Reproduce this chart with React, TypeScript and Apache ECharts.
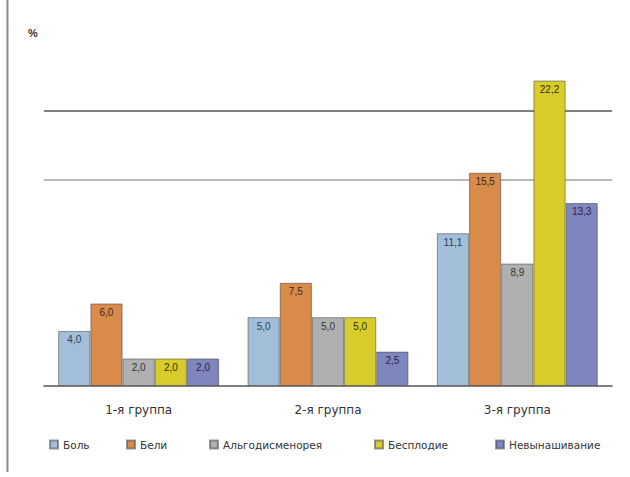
import React, { useEffect, useRef } from "react";
import * as echarts from "echarts";

const categories = ["1-я группа", "2-я группа", "3-я группа"];
const seriesNames = ["Боль", "Бели", "Альгодисменорея", "Бесплодие", "Невынашивание"];
const painValues = [4.0, 5.0, 11.1];
const leucorrheaValues = [6.0, 7.5, 15.5];
const algoValues = [2.0, 5.0, 8.9];
const infertilityValues = [2.0, 5.0, 22.2];
const miscarriageValues = [2.0, 2.5, 13.3];
const colors = ["#A3BED8", "#D98B4C", "#B0B0B0", "#D8CC2C", "#7F86BD"];
const labelColors = ["#2c3e5c", "#3a2a1a", "#333333", "#333300", "#1f2550"];
const legendLefts = [44, 121, 204, 369, 490];

export default function App() {
  const ref = useRef<HTMLDivElement>(null);
  useEffect(() => {
    document.body.style.margin = "0";
    const chart = echarts.init(ref.current!, null, { renderer: "svg" });
    const allValues = [painValues, leucorrheaValues, algoValues, infertilityValues, miscarriageValues];
    chart.setOption({
      animation: false,
      backgroundColor: "#ffffff",
      textStyle: { fontFamily: "DejaVu Sans, sans-serif" },
      graphic: [
        { type: "line", shape: { x1: 7.5, y1: 0, x2: 7.5, y2: 472 }, style: { stroke: "#888", lineWidth: 2 } },
        { type: "text", left: 28, top: 27, style: { text: "%", fontSize: 11, fill: "#333", fontWeight: "bold" } },
      ],
      legend: seriesNames.map((name, i) => ({
        data: [name],
        left: legendLefts[i],
        top: 434,
        itemWidth: 8,
        itemHeight: 8,
        itemGap: 10,
        icon: "rect",
        textStyle: { fontSize: 10.5, color: "#333", fontFamily: "DejaVu Sans, sans-serif" },
      })),
      grid: { left: 44, right: 18, top: 42, bottom: 91 },
      xAxis: {
        type: "category",
        data: categories,
        axisLine: { lineStyle: { color: "#555", width: 1.5 } },
        axisTick: { show: false },
        axisLabel: { fontSize: 12, color: "#333", margin: 18, fontFamily: "DejaVu Sans, sans-serif" },
      },
      yAxis: {
        type: "value",
        min: 0,
        max: 25,
        interval: 5,
        axisLabel: { show: false },
        axisLine: { show: false },
        axisTick: { show: false },
        splitLine: {
          show: true,
          lineStyle: {
            width: 1.5,
            color: ["rgba(0,0,0,0)", "rgba(0,0,0,0)", "rgba(0,0,0,0)", "#a0a0a0", "#555555", "rgba(0,0,0,0)"],
          },
        },
      },
      series: seriesNames.map((name, i) => ({
        name,
        type: "bar",
        data: allValues[i],
        barGap: "0%",
        barCategoryGap: "15%",
        itemStyle: { color: colors[i], borderColor: "rgba(70,70,70,0.55)", borderWidth: 1 },
        label: {
          show: true,
          position: "insideTop",
          distance: 4,
          fontSize: 10,
          color: labelColors[i],
          fontFamily: "Liberation Sans, Arial, sans-serif",
          formatter: (p: any) => p.value.toFixed(1).replace(".", ","),
        },
      })),
    });
    return () => chart.dispose();
  }, []);
  return <div ref={ref} style={{ width: 630, height: 477, position: "absolute", left: 0, top: 0 }} />;
}
